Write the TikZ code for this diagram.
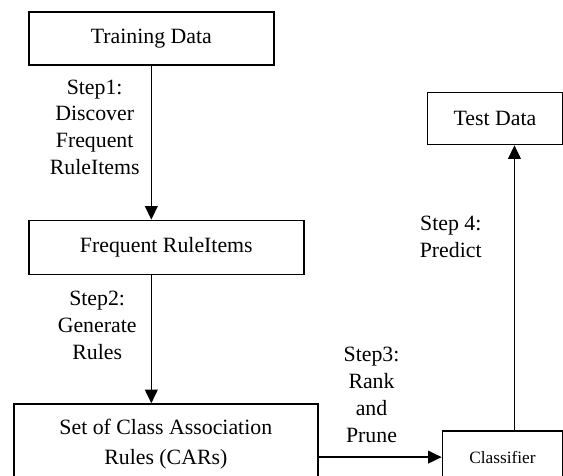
\documentclass[tikz,border=0pt]{standalone}
\usepackage{fontspec}
\setmainfont{Liberation Serif}
\usetikzlibrary{arrows.meta,positioning}
\newcommand{\px}{0.55pt}

\begin{document}
\begin{tikzpicture}[x=\px, y=-\px,
    box/.style={rectangle, draw=black, line width=0.9pt, inner sep=0pt,
    text centered, align=center, text=black, font=\fontsize{12}{16.5}\selectfont},
    steptext/.style={inner sep=0pt, align=center, text=black, font=\fontsize{12}{14.8}\selectfont},
    flow/.style={line width=0.9pt, -{Triangle[length=7.5pt,width=7pt]}}]
    \useasboundingbox (0,0) rectangle (563,475);

    \node (train) [box, minimum width=245*\px, minimum height=53*\px, anchor=north west] at (28,11) {Training Data};

    \node (freq) [box, minimum width=275*\px, minimum height=54*\px, below=154*\px of train.south west, anchor=north west] {Frequent RuleItems};

    \node (cars) [box, minimum width=304*\px, minimum height=80*\px, below=128*\px of freq.south west, xshift=-15*\px, anchor=north west] {Set of Class Association\\Rules (CARs)};

    \node (classif) [box, minimum width=120*\px, minimum height=52*\px, right=123*\px of cars.north east, yshift=-27*\px, anchor=north west, font=\fontsize{9.5}{11}\selectfont] {Classifier};

    \node (test) [box, minimum width=135*\px, minimum height=52*\px, above=285*\px of classif.north east, anchor=south east] {Test Data};

    \draw [flow] (train.south) -- node[steptext, pos=0.4, left=11*\px] {Step1:\\Discover\\Frequent\\RuleItems} (train.south |- freq.north);
    \draw [flow] (train.south |- freq.south) -- node[steptext, pos=0.39, left=14*\px] {Step2:\\Generate\\Rules} (train.south |- cars.north);
    \draw [flow] (classif.west -| cars.east) -- node[steptext, pos=0.43, above=14*\px] {Step3:\\Rank\\and\\Prune} (classif.west);

    \coordinate (up) at ([xshift=12*\px]classif.north);
    \draw [flow] (up) -- node[steptext, pos=0.68, left=32*\px] {Step 4:\\Predict} (up |- test.south);
\end{tikzpicture}
\end{document}
